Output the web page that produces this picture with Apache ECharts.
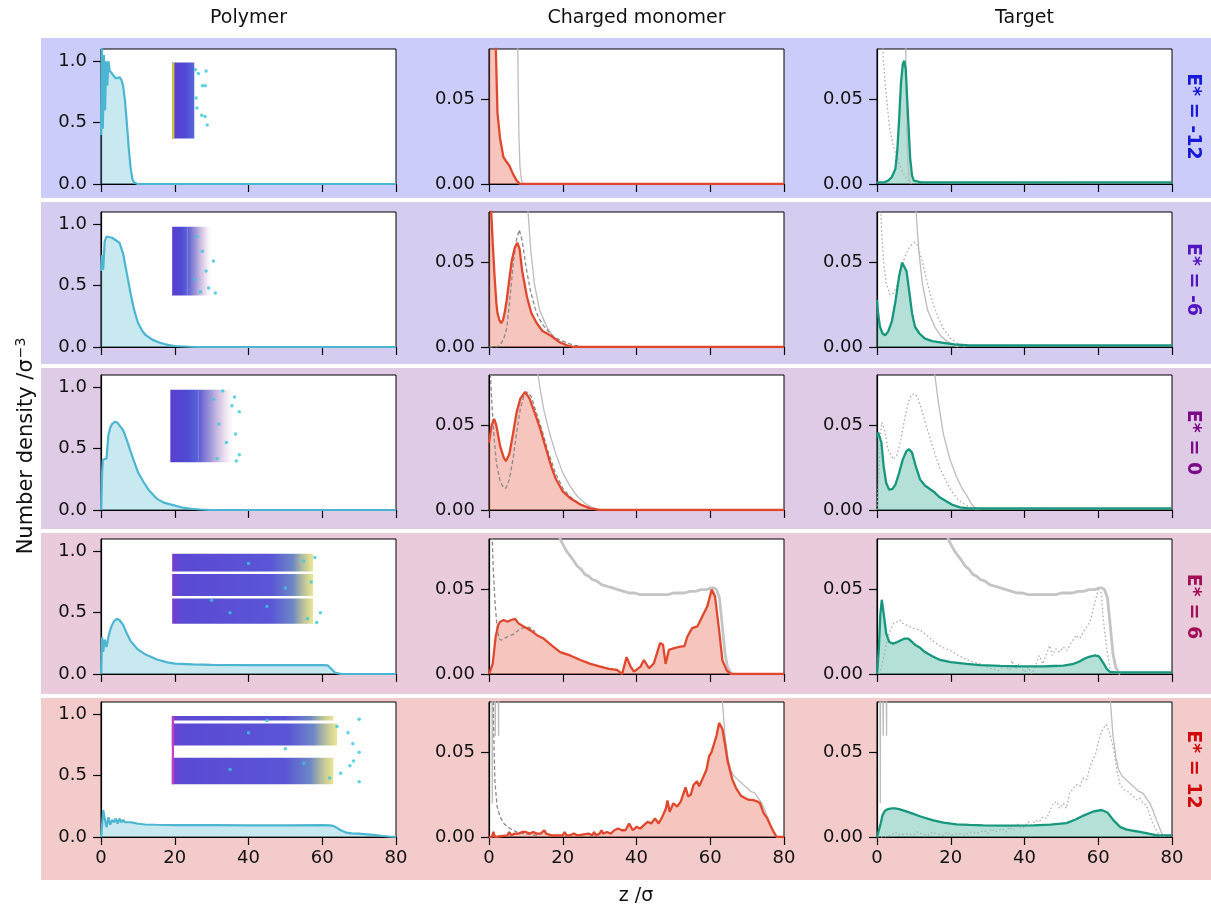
<!DOCTYPE html>
<html><head><meta charset="utf-8">
<script src="https://cdn.jsdelivr.net/npm/echarts@6/dist/echarts.min.js"></script>
<style>html,body{margin:0;padding:0;background:#fff}#c{width:1211px;height:909px}</style>
</head><body><div id="c"></div><script>
// ---------- DATA ----------
const colTitles = ['Polymer', 'Charged monomer', 'Target'];
const rowLabels = ['E* = -12', 'E* = -6', 'E* = 0', 'E* = 6', 'E* = 12'];
const xTicks = [0, 20, 40, 60, 80];
const yTicksPoly = [0, 0.5, 1.0];
const yTicksCharge = [0, 0.05];

// Polymer density (col 1)
const P1 = [[0,0.4],[0.25,1.15],[0.5,0.45],[0.8,1.05],[1.1,0.6],[1.4,1.0],[1.7,0.8],[2.0,1.0],[2.4,0.92],[3,0.9],[3.5,0.88],[4,0.86],[4.5,0.87],[5,0.87],[5.5,0.85],[6,0.8],[6.5,0.68],[7,0.5],[7.5,0.3],[8,0.14],[8.5,0.04],[9,0.01],[10,0],[80,0]];
const P2 = [[0,0.62],[0.3,0.75],[0.6,0.63],[1,0.86],[1.5,0.9],[2,0.9],[3,0.89],[4,0.87],[5,0.85],[6,0.76],[7,0.6],[8,0.44],[9,0.3],[10,0.2],[11,0.14],[12,0.1],[14,0.058],[16,0.034],[18,0.018],[20,0.008],[24,0.002],[28,0],[80,0]];
const P3 = [[0,0],[0.3,0.3],[0.5,0.41],[1,0.41],[1.5,0.42],[2,0.61],[2.5,0.67],[3,0.7],[3.8,0.72],[4.5,0.71],[5,0.69],[6,0.65],[7,0.57],[8,0.48],[8.8,0.41],[10,0.31],[11.5,0.23],[13,0.16],[15.1,0.093],[17,0.06],[19.6,0.04],[22,0.02],[24.5,0.01],[27,0.004],[30,0],[80,0]];
const P4 = [[0,0],[0.3,0.3],[0.6,0.18],[1,0.28],[1.5,0.22],[2,0.3],[2.5,0.36],[3,0.4],[3.5,0.43],[4.3,0.45],[5,0.44],[6,0.4],[7,0.33],[8,0.27],[10,0.2],[12,0.16],[15,0.12],[18,0.095],[20,0.085],[25,0.078],[30,0.075],[40,0.073],[50,0.073],[60,0.073],[61.5,0.07],[62.5,0.04],[63.5,0.01],[65,0.001],[80,0]];
const P5 = [[0,0],[0.3,0.1],[0.6,0.22],[1,0.15],[1.5,0.08],[2,0.16],[2.5,0.1],[3,0.14],[3.5,0.12],[4,0.15],[4.5,0.11],[5,0.15],[5.5,0.12],[6,0.14],[6.5,0.12],[7,0.13],[8,0.12],[9,0.115],[10,0.108],[12,0.102],[15,0.1],[20,0.097],[30,0.096],[40,0.095],[50,0.095],[60,0.096],[62,0.095],[63,0.09],[64,0.075],[65,0.055],[66.6,0.035],[68,0.03],[70,0.027],[72,0.022],[74,0.017],[76,0.01],[78,0.004],[80,0.001]];

// Charged monomer (col 2)
const C1 = [[0,0.2],[1.8,0.085],[2.3,0.042],[3.0,0.027],[3.9,0.016],[4.8,0.013],[5.5,0.011],[6.5,0.006],[7.5,0.002],[8.4,0],[80,0]];
const C2 = [[0,0.2],[0.5,0.085],[1,0.062],[1.5,0.042],[2,0.026],[2.3,0.02],[2.8,0.016],[3.3,0.0142],[3.8,0.016],[4.3,0.021],[4.8,0.0277],[5.5,0.04],[6.2,0.0514],[7,0.059],[7.7,0.0618],[8.3,0.058],[9,0.045],[10.3,0.0296],[11.5,0.02],[13,0.0139],[14.5,0.0095],[16.6,0.0069],[19,0.003],[21.1,0.001],[23,0],[80,0]];
const C3 = [[0,0.04],[0.7,0.05],[1.4,0.054],[2,0.05],[3,0.038],[4,0.031],[4.6,0.029],[5.5,0.033],[6.5,0.045],[7.5,0.058],[8.5,0.066],[9.8,0.07],[11,0.066],[12.5,0.057],[13.9,0.048],[15.5,0.036],[17,0.025],[18,0.019],[20,0.011],[22,0.007],[25,0.003],[27.5,0.001],[30,0],[80,0]];
const C4 = [[0,0],[0.5,0],[1,0.006],[1.8,0.022],[2.5,0.029],[3,0.031],[4,0.032],[5,0.031],[6,0.032],[7.1,0.0327],[8,0.03],[9.5,0.028],[11.2,0.026],[13,0.023],[14.8,0.021],[17,0.017],[19.3,0.013],[22,0.011],[24.8,0.0083],[27.5,0.006],[30.2,0.0044],[32.5,0.003],[34.7,0.0024],[36.1,0],[37.3,0.01],[38.4,0.0044],[39.3,0.0014],[41.1,0.0044],[42,0.0083],[43.4,0.0034],[44.7,0.0063],[46.4,0.0183],[47.2,0.0173],[47.9,0.006],[48.8,0.0143],[50.2,0.0153],[52,0.0163],[53,0.0165],[53.8,0.0222],[55.1,0.0272],[56.5,0.0282],[57.4,0.0321],[58.3,0.0361],[59.2,0.0401],[60.4,0.05],[61.3,0.046],[62.4,0.026],[63.3,0.008],[64.5,0.002],[65.6,0],[80,0]];
const C5 = [[0,0],[0.8,0],[1.2,0.003],[1.6,0],[5,0.001],[5.5,0.003],[6,0.001],[7,0.002],[8,0.002],[9,0.003],[10,0.003],[11,0.002],[12,0.003],[13,0.002],[14,0.002],[15,0.004],[15.5,0.002],[16,0.003],[17,0.001],[20,0.001],[20.5,0.003],[21,0.001],[22,0.001],[23,0.002],[24,0.001],[27,0.002],[28,0.001],[28.5,0.003],[29,0.001],[30,0.002],[30.5,0.004],[31,0.002],[32,0.003],[33,0.002],[34,0.004],[34.5,0.003],[35,0.005],[36,0.004],[37,0.004],[38,0.008],[38.5,0.006],[39,0.004],[40,0.006],[41,0.005],[42,0.007],[43,0.009],[44,0.008],[45,0.011],[46,0.008],[47,0.012],[48,0.017],[48.4,0.0216],[49,0.015],[50,0.02],[51,0.018],[52,0.021],[53.3,0.0294],[54,0.024],[54.7,0.025],[55.5,0.031],[56.4,0.033],[57,0.03],[58.2,0.036],[59,0.04],[59.7,0.048],[60.3,0.05],[61,0.055],[61.7,0.06],[62.4,0.0676],[63.3,0.064],[64,0.055],[64.7,0.045],[66,0.034],[67,0.029],[68.3,0.0245],[69.5,0.023],[70.5,0.022],[71.5,0.022],[72.8,0.021],[73.5,0.02],[74.5,0.014],[75.5,0.011],[76.3,0.007],[77.2,0.003],[78,0],[80,0]];

// Gray dashed reference (col 2)
const D2 = [[0,0],[2,0],[3,0.001],[4,0.005],[4.8,0.011],[5.5,0.025],[6.6,0.05],[7.5,0.064],[8.2,0.0695],[9,0.063],[10,0.048],[11.2,0.0336],[12.5,0.023],[13.5,0.017],[14.8,0.0126],[17,0.007],[19.3,0.004],[23,0.001],[26,0]];
const D3 = [[0,0.1],[0.5,0.075],[1,0.055],[1.5,0.04],[2,0.028],[3,0.017],[4,0.013],[4.6,0.013],[5.5,0.018],[6.5,0.03],[7.5,0.046],[8.5,0.06],[9.5,0.068],[10.5,0.07],[11.5,0.067],[12.5,0.06],[14,0.05],[16,0.035],[18,0.022],[20,0.013],[22,0.008],[25,0.003],[28,0.001],[30,0]];
const D4 = [[0.7,0.09],[1.2,0.06],[1.7,0.04],[2.2,0.028],[2.7,0.021],[3.3,0.02],[4,0.021],[5,0.022],[6,0.023],[7,0.024],[8,0.026],[9,0.027],[10.3,0.028],[11.5,0.027],[12.5,0.025]];
const D5 = [[0.9,0.2],[1.2,0.07],[1.6,0.033],[2.2,0.018],[3,0.012],[4,0.008],[5.7,0.005],[7.5,0.003],[9.4,0.002],[11,0.0015],[13,0.001]];

// Gray solid reference (cols 2 and 3)
const G1 = [[7.5,0.5],[7.8,0.08],[8.1,0.03],[8.4,0.01],[8.8,0.002],[9.3,0]];
const G2 = [[9.8,0.1],[10.6,0.08],[11.3,0.058],[12.3,0.0375],[13.7,0.022],[15.7,0.0118],[17.5,0.006],[19.3,0.003],[21,0.001],[22,0]];
const G3 = [[12.5,0.1],[13.3,0.08],[14,0.07],[15,0.058],[16.5,0.045],[18,0.034],[20,0.022],[22,0.014],[24,0.008],[26,0.004],[28,0.0015],[30,0]];
const G3b = [[15,0.1],[15.7,0.08],[16.5,0.066],[18,0.045],[19.8,0.03],[21.5,0.02],[23,0.013],[24.3,0.0087],[25.5,0.004],[27,0]];
const G4 = [[18.5,0.09],[19.3,0.08],[20,0.077],[21,0.073],[22,0.07],[23,0.067],[23.9,0.064],[25,0.062],[26,0.059],[27,0.058],[28,0.056],[29.3,0.055],[30.5,0.053],[32,0.052],[33.5,0.051],[35,0.05],[36.5,0.049],[38,0.048],[39.5,0.048],[41,0.047],[42.5,0.047],[44,0.047],[45.5,0.047],[47,0.047],[48.5,0.047],[50,0.048],[51.5,0.048],[53,0.048],[54.5,0.049],[56,0.049],[57.5,0.05],[59,0.05],[60.3,0.051],[61,0.051],[61.7,0.05],[62.5,0.045],[63.2,0.03],[64,0.012],[64.7,0.004],[65.5,0.001],[66,0]];
const G5 = [[62.8,0.1],[63.3,0.08],[64,0.06],[64.8,0.047],[65.5,0.04],[66.5,0.036],[67.5,0.034],[68.5,0.032],[69.5,0.03],[71,0.027],[72.1,0.026],[73,0.023],[74,0.02],[74.8,0.016],[75.8,0.01],[76.7,0.005],[77.5,0.001],[78,0]];
const G5left = [[0.7,0.2],[0.9,0.02],[1.1,0.2],[1.4,0.2],[1.7,0.06],[2.0,0.2],[2.4,0.2],[2.6,0.06],[2.8,0.2]];

// Target (col 3)
const T1 = [[0,0.001],[2,0.001],[3,0.002],[4,0.004],[5,0.009],[5.5,0.02],[6,0.038],[6.5,0.06],[7,0.071],[7.4,0.073],[7.8,0.068],[8.3,0.045],[9,0.015],[9.5,0.005],[10,0.002],[12,0.001],[80,0.001]];
const T2 = [[0,0.028],[0.3,0.02],[0.8,0.012],[1.5,0.008],[2.2,0.007],[3,0.009],[4,0.015],[5,0.027],[6,0.042],[6.8,0.05],[7.3,0.051],[8,0.045],[8.8,0.032],[9.5,0.02],[10.3,0.012],[11.5,0.008],[13,0.005],[15,0.0035],[18,0.0025],[21,0.0015],[25,0.001],[80,0.001]];
const T3 = [[0,0.043],[0.3,0.046],[0.7,0.046],[1.2,0.04],[1.8,0.026],[2.5,0.016],[3.3,0.012],[4.2,0.0125],[5,0.015],[6,0.022],[7,0.03],[8,0.035],[8.7,0.036],[9.5,0.034],[10.5,0.026],[11.7,0.018],[13,0.0145],[15.3,0.011],[17,0.0075],[18.9,0.005],[20.5,0.003],[22.5,0.0016],[25,0.001],[80,0.001]];
const T4 = [[0,0],[0.5,0.015],[0.9,0.035],[1.3,0.044],[1.8,0.036],[2.5,0.024],[3.3,0.019],[4.4,0.018],[5.5,0.019],[6.5,0.02],[7.5,0.021],[8.5,0.021],[9.5,0.019],[10.5,0.017],[11.7,0.0155],[13,0.013],[15,0.0105],[17.1,0.0083],[20,0.007],[24.3,0.006],[28,0.0053],[33.4,0.0048],[38,0.0046],[42.4,0.0045],[46,0.0046],[50.5,0.005],[53,0.0058],[55,0.0075],[56,0.0088],[57.5,0.0102],[59.1,0.011],[60.2,0.0105],[61.4,0.0065],[62.3,0.003],[63.2,0.0012],[65,0.001],[80,0.001]];
const T5 = [[0,0],[0.5,0],[1,0.008],[1.5,0.013],[2.2,0.0157],[3,0.0165],[4,0.017],[4.9,0.017],[6,0.0165],[7.5,0.0155],[9.9,0.0137],[12,0.012],[15.3,0.0098],[18,0.0085],[21.6,0.0075],[25,0.0072],[28.8,0.0069],[35,0.0068],[42.4,0.0069],[47,0.0073],[51.4,0.0082],[54,0.0105],[56,0.0127],[58.5,0.015],[60.9,0.016],[62.5,0.0145],[64.1,0.01],[65.9,0.006],[67.5,0.0045],[69.5,0.0037],[72,0.0028],[74,0.0018],[76,0.001],[80,0.001]];

// Gray dotted reference (col 3)
const O1 = [[1.4,0.09],[1.7,0.075],[2.2,0.06],[3,0.042],[3.5,0.032],[4.5,0.022],[5.3,0.016],[6.5,0.009],[7.5,0.005],[8.5,0.002],[9.2,0]];
const O2 = [[0.8,0.1],[1.2,0.07],[1.8,0.05],[2.5,0.038],[3.5,0.031],[4.5,0.032],[5.5,0.037],[6.5,0.045],[7.5,0.053],[8.5,0.058],[9.5,0.061],[10.3,0.062],[11,0.06],[12,0.053],[13,0.044],[14,0.035],[15,0.027],[16.5,0.018],[18,0.011],[20,0.005],[22.5,0.001],[24,0]];
const O3 = [[0,0],[0.5,0.02],[1,0.045],[1.3,0.052],[2,0.048],[3,0.036],[4.4,0.03],[5.5,0.033],[6.5,0.042],[7.5,0.054],[8.5,0.064],[9.3,0.068],[10.1,0.069],[11,0.067],[12,0.06],[13.5,0.049],[15.3,0.036],[17,0.025],[19.8,0.0126],[22,0.006],[24,0.003],[26,0.001],[28,0]];
const O4 = [[0.5,0],[1,0.002],[1.8,0.01],[2.5,0.018],[3.4,0.025],[4.5,0.03],[5.5,0.031],[6.2,0.032],[7,0.03],[8,0.029],[9,0.028],[10,0.027],[11.7,0.026],[13.5,0.023],[15.5,0.019],[17.5,0.016],[19.8,0.014],[22,0.011],[24,0.009],[26,0.007],[28,0.006],[30,0.004],[31.5,0.003],[33,0.002],[34.5,0.005],[36,0.002],[36.6,0.008],[37.5,0.003],[38.5,0.006],[40,0.001],[41,0.004],[42,0],[43,0.005],[44,0.011],[45,0.006],[46,0.012],[46.8,0.017],[47.5,0.011],[48.5,0.015],[49.5,0.013],[50.5,0.016],[51.5,0.014],[52.5,0.018],[54,0.023],[55,0.021],[56,0.025],[56.9,0.028],[57.8,0.031],[58.7,0.039],[59.4,0.045],[60,0.05],[60.7,0.049],[61.4,0.032],[62.3,0.015],[63.2,0.003],[64,0.001],[66,0]];
const O5 = [[0,0],[2,0],[4,0.001],[5,0.003],[6,0.001],[8,0.002],[10,0.001],[11,0.003],[12,0.002],[14,0.001],[15,0.003],[16,0.002],[18,0.001],[19,0.003],[20,0.001],[22,0.002],[24,0.001],[25,0.003],[27,0.002],[29,0.004],[30,0.002],[31,0.005],[32,0.003],[34,0.005],[35,0.003],[36,0.006],[37,0.004],[38,0.008],[39,0.005],[40,0.006],[41,0.009],[42,0.007],[43,0.01],[44,0.009],[45,0.012],[46,0.011],[47,0.016],[47.8,0.02],[48.8,0.021],[49.5,0.017],[50.5,0.02],[51.4,0.017],[52.2,0.026],[53,0.028],[54,0.031],[55,0.03],[56,0.035],[56.9,0.034],[57.8,0.042],[58.6,0.046],[59.4,0.05],[60.2,0.058],[61,0.063],[62.1,0.0667],[63,0.062],[64.1,0.053],[65,0.04],[65.9,0.031],[67,0.028],[68,0.027],[69.5,0.024],[70.5,0.022],[71.3,0.023],[72.1,0.02],[73,0.019],[74,0.013],[74.8,0.008],[76,0.003],[77,0]];

// Snapshot insets (col 1): [z0, z1, y0, y1, kind]
const IN1 = [[19.3,25.3,0.37,0.99,0],[19.3,19.9,0.37,0.99,1]];
const IN2 = [[19.3,23.5,0.42,0.98,0],[23.5,30,0.42,0.98,2]];
const IN3 = [[18.8,26.5,0.39,0.98,0],[26.5,36,0.39,0.98,2]];
const IN4 = [[19.3,57.5,0.835,0.98,3],[19.3,57.5,0.635,0.815,3],[19.3,57.5,0.41,0.615,3]];
const IN5 = [[19.2,63,0.95,0.985,3],[19.2,64,0.745,0.925,3],[19.2,63,0.43,0.645,3],[19.2,19.8,0.43,0.985,4]];
// loose monomers (cyan dots)
const S1 = [[25.6,0.93],[26.4,0.9],[27.5,0.8],[28.3,0.8],[27.3,0.56],[28.2,0.55],[26,0.62],[25.8,0.7],[28.5,0.92],[28.8,0.48]];
const S2 = [[26,0.9],[27.5,0.78],[28.5,0.62],[29.2,0.48],[25.5,0.55],[30.5,0.7],[27,0.45],[31,0.44]];
const S3 = [[33,0.97],[35.5,0.85],[36.2,0.92],[37.5,0.8],[36.5,0.62],[37.5,0.45],[36.7,0.4],[32,0.7],[34,0.55],[30.5,0.9],[31.5,0.42]];
const S4 = [[56,0.45],[58.5,0.42],[59.5,0.5],[57,0.75],[55,0.92],[58,0.95],[40,0.9],[45,0.55],[50,0.7],[35,0.5],[30,0.6]];
const S5 = [[70,0.96],[67,0.85],[68.3,0.76],[70,0.69],[67.5,0.58],[68.5,0.62],[70,0.45],[65,0.52],[64,0.9],[62,0.48],[45,0.95],[50,0.72],[35,0.55],[40,0.85],[55,0.6]];

// ---------- LAYOUT / STYLE ----------
const rows = [
  {P:P1,C:C1,D:null,G:G1,GL:null,T:T1,O:O1,H:G1,IN:IN1,S:S1},
  {P:P2,C:C2,D:D2,G:G2,GL:null,T:T2,O:O2,H:G2,IN:IN2,S:S2},
  {P:P3,C:C3,D:D3,G:G3,GL:null,T:T3,O:O3,H:G3b,IN:IN3,S:S3},
  {P:P4,C:C4,D:D4,G:G4,GL:null,T:T4,O:O4,H:G4,IN:IN4,S:S4},
  {P:P5,C:C5,D:D5,G:G5,GL:G5left,T:T5,O:O5,H:G5,IN:IN5,S:S5}
];
const colLeft = [101, 489, 877], plotW = 295;
const rowTop = [49, 212, 375, 539, 702], plotH = 135;
const bandY = [[38,198],[202,364],[368,529],[533,694],[698,880]];
const bandColors = ['#ccccfa','#d6ccef','#dfcbe5','#e9cbdc','#f4cbcb'];
const labelColors = ['#1818d8','#5014c0','#7c0a88','#a20e55','#d00a0a'];
const FONT = 'DejaVu Sans';
const polyColor = '#4cb6d2', polyFill = 'rgba(76,182,210,0.3)';
const redColor = '#e0482e', redFill = 'rgba(226,74,51,0.32)';
const grnColor = '#17977e', grnFill = 'rgba(26,160,130,0.32)';

const G = echarts.graphic;
const insetFills = [
  new G.LinearGradient(0,0,1,0,[{offset:0,color:'#5b3ecc'},{offset:0.6,color:'#4f4ad4'},{offset:1,color:'#5a66d8'}]),
  '#d6cc3a',
  new G.LinearGradient(0,0,1,0,[{offset:0,color:'rgba(85,80,210,0.95)'},{offset:0.35,color:'rgba(120,110,200,0.7)'},{offset:0.7,color:'rgba(180,140,200,0.35)'},{offset:1,color:'rgba(220,200,220,0)'}]),
  new G.LinearGradient(0,0,1,0,[{offset:0,color:'#7a3ccc'},{offset:0.06,color:'#5b4ad4'},{offset:0.7,color:'#5a55d6'},{offset:0.86,color:'#6d88c6'},{offset:1,color:'rgba(215,210,60,0.55)'}]),
  '#c040c8'
];

const grids = [], xAxes = [], yAxes = [], series = [], graphics = [];
bandY.forEach((b, r) => graphics.push({type:'rect', silent:true, z:-10,
  shape:{x:41, y:b[0], width:1211-41, height:b[1]-b[0]}, style:{fill:bandColors[r]}}));

function lineS(idx, data, color, width, type, z, area) {
  return {type:'line', xAxisIndex:idx, yAxisIndex:idx, data, showSymbol:false, symbol:'none',
    clip:true, silent:true, z, animation:false,
    lineStyle:{color, width, type: type||'solid'},
    areaStyle: area ? {color:area, opacity:1} : undefined};
}

for (let r = 0; r < 5; r++) {
  const R = rows[r];
  for (let c = 0; c < 3; c++) {
    const idx = r*3 + c;
    grids.push({left:colLeft[c], top:rowTop[r], width:plotW, height:plotH, show:true,
      backgroundColor:'#fff', borderColor:'#000', borderWidth:1});
    xAxes.push({gridIndex:idx, type:'value', min:0, max:80, interval:20,
      axisLine:{show:true, onZero:false, lineStyle:{color:'#000', width:1.2}},
      axisTick:{show:true, length:8, lineStyle:{color:'#000', width:1.2}},
      axisLabel:{show:r===4, fontSize:18, color:'#111', margin:12, fontFamily:FONT},
      splitLine:{show:false}});
    const ticks = c===0 ? yTicksPoly : yTicksCharge;
    const dec = c===0 ? 1 : 2;
    yAxes.push({gridIndex:idx, type:'value', min:0, max: c===0 ? 1.1 : 0.08,
      axisLine:{show:true, onZero:false, lineStyle:{color:'#000', width:1.2}},
      axisTick:{show:true, length:8, customValues:ticks, lineStyle:{color:'#000', width:1.2}},
      axisLabel:{show:true, customValues:ticks, fontSize:18, color:'#111', margin:14, fontFamily:FONT,
        formatter:v => Number(v).toFixed(dec)},
      splitLine:{show:false}});
    if (c === 0) {
      series.push(lineS(idx, R.P, polyColor, 2.2, 'solid', 2, polyFill));
      series.push({type:'custom', xAxisIndex:idx, yAxisIndex:idx, data:R.IN, z:4, silent:true, animation:false,
        clip:true,
        renderItem:(params, api) => {
          const p0 = api.coord([api.value(0), api.value(3)]);
          const p1 = api.coord([api.value(1), api.value(2)]);
          return {type:'rect', shape:{x:p0[0], y:p0[1], width:p1[0]-p0[0], height:p1[1]-p0[1]},
            style:{fill:insetFills[api.value(4)]}};
        }});
      series.push({type:'scatter', xAxisIndex:idx, yAxisIndex:idx, data:R.S, symbolSize:3.5, z:5, silent:true,
        animation:false, itemStyle:{color:'#36c9dc'}});
    } else {
      const main = c===1 ? R.C : R.T;
      const col = c===1 ? redColor : grnColor;
      const fill = c===1 ? redFill : grnFill;
      series.push(lineS(idx, main, 'rgba(0,0,0,0)', 0, 'solid', 1, fill));
      const gray = c===1 ? R.G : R.H;
      const thick = r === 3;
      series.push(lineS(idx, gray, thick ? '#c4c4c4' : '#bcbcbc', thick ? 2.8 : 1.3, 'solid', 2));
      if (R.GL) series.push(lineS(idx, R.GL, '#bcbcbc', 1.3, 'solid', 2));
      if (c===1 && R.D) series.push(lineS(idx, R.D, '#8a8a8a', 1.3, [4,2.5], 3));
      if (c===2 && R.O) series.push(lineS(idx, R.O, '#ababab', 1.3, [1.5,2.5], 3));
      series.push(lineS(idx, main, col, 2.3, 'solid', 4));
    }
  }
  // row label on the right
  graphics.push({type:'text', x:1193, y:rowTop[r] + plotH/2, rotation:-Math.PI/2, silent:true,
    style:{text:rowLabels[r], fontSize:19, fontWeight:'bold', fontFamily:FONT, fill:labelColors[r],
      align:'center', verticalAlign:'middle'}});
}
// column titles
colTitles.forEach((t, c) => graphics.push({type:'text', x:colLeft[c] + plotW/2, y:18, silent:true,
  style:{text:t, fontSize:19, fontFamily:FONT, fill:'#111', align:'center', verticalAlign:'middle'}}));
// axis titles
graphics.push({type:'text', x:636, y:896, silent:true,
  style:{text:'z /σ', fontSize:19, fontFamily:FONT, fill:'#111', align:'center', verticalAlign:'middle'}});
graphics.push({type:'text', x:27, y:446, rotation:Math.PI/2, silent:true,
  style:{text:'Number density /σ{sup|−3}', fontSize:21, fontFamily:FONT, fill:'#111', align:'center', verticalAlign:'middle',
    rich:{sup:{fontSize:14, fontFamily:FONT, fill:'#111', padding:[0,0,11,1]}}}});

const chart = echarts.init(document.getElementById('c'), null, {renderer:'canvas'});
chart.setOption({animation:false, backgroundColor:'#fff', grid:grids, xAxis:xAxes, yAxis:yAxes, series, graphic:graphics});
</script></body></html>
